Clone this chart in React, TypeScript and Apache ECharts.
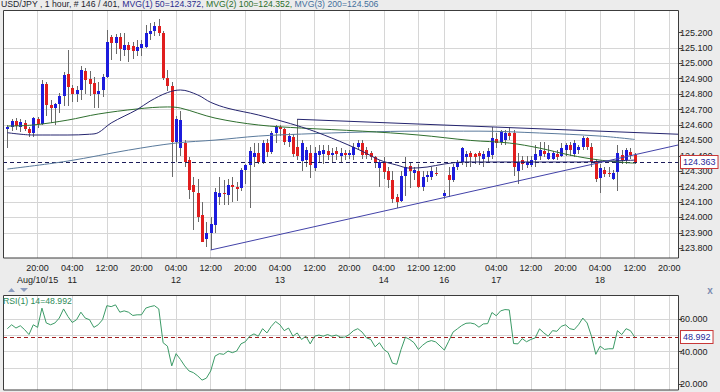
import React, { useEffect, useRef } from 'react';
import * as echarts from 'echarts';

// ---------- axis slots & tick labels ----------
const slots: string[] = Array.from({ length: 157 }, (_, i) => String(i));
const tickSlots = [8, 16, 24, 32, 40, 48, 56, 64, 72, 80, 88, 96, 102, 114, 122, 130, 138, 146, 154];
const tickTimes = ['20:00', '04:00', '12:00', '20:00', '04:00', '12:00', '20:00', '04:00', '12:00', '20:00', '04:00', '12:00', '12:00', '04:00', '12:00', '20:00', '04:00', '12:00', '20:00'];
const tickDays = ['Aug/10/15', '11', '', '', '12', '', '', '13', '', '', '14', '', '16', '17', '', '', '18', '', ''];
const priceTicks = [123.8, 123.9, 124.0, 124.1, 124.2, 124.3, 124.4, 124.5, 124.6, 124.7, 124.8, 124.9, 125.0, 125.1, 125.2];
const rsiLabelTicks = [20, 40, 60];
const rsiGridTicks = [20, 30, 40, 50, 60, 70];

// ---------- hourly candles, slots 1..146 (slot 101 empty) ----------
const opens: (number | null)[] = [
  124.572, 124.585, 124.626, 124.59, 124.614, 124.576, 124.546, 124.637, 124.606, 124.866,
  124.73, 124.708, 124.735, 124.788, 124.93, 124.84, 124.80, 124.827, 124.95, 124.896,
  124.874, 124.80, 124.827, 124.913, 125.17, 125.13, 125.17, 125.086, 125.12, 125.115,
  125.08, 125.10, 125.108, 125.19, 125.21, 125.24, 125.20, 124.905, 124.855, 124.49,
  124.45, 124.48, 124.373, 124.21, 124.157, 124.016, 123.86, 123.90, 123.95, 124.13,
  124.16, 124.145, 124.21, 124.195, 124.19, 124.31, 124.34, 124.39, 124.416, 124.362,
  124.481, 124.427, 124.546, 124.589, 124.572, 124.491, 124.524, 124.46, 124.368, 124.373,
  124.42, 124.32, 124.405, 124.411, 124.433, 124.405, 124.433, 124.399, 124.42, 124.405,
  124.405, 124.459, 124.485, 124.437, 124.42, 124.394, 124.319, 124.362, 124.30, 124.24,
  124.13, 124.11, 124.27, 124.335, 124.29, 124.30, 124.20, 124.26, 124.26, 124.29,
  null, 124.14, 124.275, 124.243, 124.33, 124.362, 124.39, 124.42, 124.41, 124.42,
  124.38, 124.39, 124.405, 124.51, 124.49, 124.50, 124.55, 124.546, 124.30, 124.37,
  124.34, 124.34, 124.37, 124.40, 124.43, 124.38, 124.38, 124.41, 124.40, 124.44,
  124.47, 124.41, 124.44, 124.459, 124.513, 124.459, 124.362, 124.254, 124.31, 124.29,
  124.25, 124.297, 124.405, 124.373, 124.427, 124.405,
];
const closes: (number | null)[] = [
  124.585, 124.626, 124.596, 124.62, 124.576, 124.546, 124.643, 124.606, 124.866, 124.73,
  124.708, 124.735, 124.788, 124.924, 124.844, 124.80, 124.83, 124.957, 124.892, 124.866,
  124.80, 124.82, 124.913, 125.14, 125.13, 125.17, 125.09, 125.12, 125.086, 125.08,
  125.108, 125.125, 125.195, 125.21, 125.24, 125.195, 124.905, 124.855, 124.49, 124.64,
  124.63, 124.36, 124.178, 124.167, 124.005, 123.843, 123.90, 123.96, 124.165, 124.16,
  124.15, 124.21, 124.195, 124.185, 124.31, 124.34, 124.43, 124.42, 124.362, 124.481,
  124.427, 124.546, 124.589, 124.572, 124.491, 124.528, 124.411, 124.40, 124.485, 124.437,
  124.34, 124.42, 124.433, 124.437, 124.405, 124.42, 124.411, 124.42, 124.405, 124.42,
  124.455, 124.481, 124.405, 124.405, 124.394, 124.351, 124.362, 124.297, 124.24, 124.12,
  124.10, 124.27, 124.33, 124.30, 124.31, 124.20, 124.26, 124.275, 124.30, 124.285,
  null, 124.16, 124.243, 124.33, 124.362, 124.449, 124.41, 124.39, 124.39, 124.40,
  124.41, 124.43, 124.513, 124.48, 124.556, 124.55, 124.53, 124.33, 124.36, 124.345,
  124.36, 124.37, 124.41, 124.44, 124.41, 124.42, 124.42, 124.39, 124.45, 124.47,
  124.44, 124.48, 124.46, 124.513, 124.459, 124.362, 124.247, 124.319, 124.28, 124.28,
  124.29, 124.416, 124.373, 124.437, 124.405, 124.363,
];
const lows: (number | null)[] = [
  124.45, 124.56, 124.565, 124.555, 124.56, 124.525, 124.52, 124.58, 124.60, 124.66,
  124.61, 124.60, 124.68, 124.72, 124.72, 124.75, 124.75, 124.76, 124.80, 124.79,
  124.71, 124.71, 124.78, 124.905, 125.02, 125.06, 125.015, 125.05, 125.01, 125.025,
  125.045, 125.045, 125.10, 125.15, 125.18, 125.18, 124.89, 124.82, 124.265, 124.36,
  124.40, 124.33, 124.12, 123.92, 123.97, 123.84, 123.81, 123.79, 123.90, 124.08,
  124.08, 124.08, 124.10, 124.11, 124.17, 124.22, 124.06, 124.33, 124.35, 124.35,
  124.39, 124.41, 124.48, 124.53, 124.47, 124.46, 124.39, 124.37, 124.30, 124.33,
  124.255, 124.30, 124.36, 124.35, 124.37, 124.36, 124.37, 124.36, 124.37, 124.38,
  124.37, 124.44, 124.38, 124.38, 124.37, 124.32, 124.20, 124.25, 124.19, 124.095,
  124.06, 124.10, 124.14, 124.19, 124.24, 124.19, 124.17, 124.23, 124.24, 124.27,
  null, 124.12, 124.135, 124.23, 124.31, 124.34, 124.33, 124.33, 124.35, 124.34,
  124.33, 124.36, 124.38, 124.45, 124.47, 124.47, 124.50, 124.27, 124.22, 124.31,
  124.32, 124.33, 124.33, 124.37, 124.39, 124.37, 124.37, 124.37, 124.39, 124.40,
  124.40, 124.39, 124.41, 124.44, 124.44, 124.33, 124.23, 124.16, 124.26, 124.26,
  124.24, 124.17, 124.35, 124.35, 124.38, 124.35,
];
const highs: (number | null)[] = [
  124.60, 124.64, 124.645, 124.64, 124.635, 124.59, 124.65, 124.65, 124.89, 124.88,
  124.76, 124.74, 124.81, 124.945, 125.085, 124.86, 124.85, 124.98, 124.97, 124.95,
  124.91, 124.88, 124.93, 125.215, 125.185, 125.19, 125.20, 125.20, 125.14, 125.14,
  125.15, 125.15, 125.25, 125.26, 125.27, 125.287, 125.21, 124.955, 124.88, 124.66,
  124.69, 124.50, 124.39, 124.26, 124.25, 124.10, 123.97, 124.00, 124.19, 124.265,
  124.24, 124.25, 124.26, 124.23, 124.32, 124.35, 124.46, 124.48, 124.48, 124.50,
  124.51, 124.56, 124.60, 124.60, 124.58, 124.55, 124.54, 124.64, 124.50, 124.46,
  124.47, 124.46, 124.47, 124.47, 124.47, 124.45, 124.46, 124.45, 124.44, 124.44,
  124.48, 124.50, 124.50, 124.46, 124.43, 124.40, 124.37, 124.394, 124.33, 124.30,
  124.15, 124.30, 124.39, 124.36, 124.33, 124.35, 124.30, 124.30, 124.33, 124.33,
  null, 124.18, 124.33, 124.35, 124.37, 124.46, 124.43, 124.43, 124.42, 124.43,
  124.43, 124.45, 124.59, 124.55, 124.57, 124.57, 124.59, 124.567, 124.42, 124.40,
  124.40, 124.40, 124.47, 124.49, 124.49, 124.47, 124.43, 124.44, 124.48, 124.48,
  124.49, 124.50, 124.47, 124.53, 124.52, 124.48, 124.38, 124.35, 124.33, 124.33,
  124.31, 124.47, 124.44, 124.45, 124.45, 124.42,
];

// ---------- moving averages read at sample slots: [slot, value] ----------
const mvg50: [number, number][] = [
  [1, 124.55], [7, 124.535], [15, 124.535], [20, 124.54], [22, 124.55], [25, 124.613], [31, 124.70],
  [34, 124.755], [38, 124.81], [41, 124.827], [45, 124.795], [48, 124.747], [52, 124.708], [59, 124.665],
  [69, 124.587], [76, 124.515], [83, 124.43], [87, 124.373], [91, 124.34], [94, 124.32], [98, 124.327],
  [102, 124.347], [107, 124.36], [115, 124.36], [124, 124.36], [133, 124.36], [140, 124.366], [146, 124.372],
];
const mvg100: [number, number][] = [
  [1, 124.593], [7, 124.60], [15, 124.632], [22, 124.671], [31, 124.704], [38, 124.717], [41, 124.71],
  [49, 124.645], [59, 124.60], [69, 124.58], [83, 124.56], [96, 124.535], [108, 124.50], [117, 124.483],
  [124, 124.45], [131, 124.405], [138, 124.372], [146, 124.352],
];
const mvg200: [number, number][] = [
  [1, 124.314], [15, 124.366], [29, 124.437], [40, 124.483], [49, 124.502], [59, 124.528], [69, 124.541],
  [83, 124.554], [96, 124.56], [110, 124.56], [124, 124.548], [138, 124.528], [146, 124.506],
];
const resistanceLine: [number, number][] = [[68, 124.637], [156, 124.54]];
const supportLine: [number, number][] = [[48, 123.789], [156, 124.47]];
const lastPrice = 124.363;

// ---------- RSI(14), slots 1..146 (slot 101 empty) ----------
const rsi: (number | null)[] = [
  54.1, 56.5, 54.5, 55.9, 53.5, 50.5, 56.5, 54.9, 66.7, 57.6,
  56.5, 57.6, 60.6, 66.2, 61.6, 57.9, 59.6, 64.2, 60.6, 59.6,
  54.9, 56.5, 59.6, 68.2, 67.6, 68.7, 64.2, 65.0, 64.2, 62.2,
  62.6, 62.6, 66.7, 67.6, 68.2, 66.2, 45.5, 43.4, 31.3, 38.8,
  35.3, 31.3, 28.2, 27.2, 25.2, 22.6, 23.8, 28.2, 37.3, 38.8,
  38.4, 40.4, 39.4, 40.4, 44.8, 46.1, 49.5, 50.9, 49.5, 54.1,
  51.5, 55.5, 58.5, 56.5, 52.9, 54.5, 49.5, 51.5, 47.5, 49.5,
  44.8, 49.5, 50.2, 49.5, 50.5, 49.5, 50.2, 48.9, 48.9, 50.5,
  52.9, 54.1, 52.0, 48.5, 47.5, 43.0, 45.5, 41.4, 39.5, 33.0,
  32.3, 41.4, 48.9, 47.5, 45.5, 41.4, 44.0, 46.0, 46.8, 46.0,
  null, 41.0, 46.4, 52.0, 54.0, 56.0, 57.4, 57.6, 57.0, 55.0,
  57.0, 57.2, 64.0, 62.0, 65.0, 65.8, 65.6, 45.0, 44.8, 48.0,
  46.1, 47.5, 48.5, 54.0, 51.5, 49.5, 52.9, 52.5, 55.5, 56.5,
  54.1, 53.5, 56.5, 60.6, 57.6, 49.5, 38.4, 43.4, 41.4, 41.8,
  41.8, 52.9, 50.5, 54.1, 52.9, 48.992,
];
const lastRsi = 48.992;

const FONT = "'Liberation Sans', Arial, sans-serif";
const UP = '#1c1cdc';
const DOWN = '#e01e1e';
const WICK = '#6a6a6a';
const GRID = '#d6d6d6';

export default function App() {
  const ref = useRef<HTMLDivElement>(null);

  useEffect(() => {
    if (!ref.current) return;
    const chart = echarts.init(ref.current, undefined, { renderer: 'svg' });

    const candleData: number[][] = [];
    opens.forEach((o, i) => {
      if (o === null) return;
      candleData.push([i + 1, o, closes[i] as number, lows[i] as number, highs[i] as number]);
    });
    const rsiData: number[][] = [];
    rsi.forEach((v, i) => {
      if (v === null) return;
      rsiData.push([i + 1, v]);
    });

    const labelOf = (idx: number) => {
      const k = tickSlots.indexOf(idx);
      if (k < 0) return '';
      return tickDays[k] ? `${tickTimes[k]}\n${tickDays[k]}` : tickTimes[k];
    };
    const isTick = (idx: number) => tickSlots.indexOf(idx) >= 0;

    const xBase = {
      type: 'category',
      data: slots,
      boundaryGap: false,
      axisLine: { show: false },
      axisTick: { show: false },
      splitLine: { show: true, interval: (i: number) => isTick(i), lineStyle: { color: GRID, width: 1 } },
    };

    const lineSeries = (data: [number, number][], color: string, z = 5) => ({
      type: 'line',
      xAxisIndex: 0,
      yAxisIndex: 0,
      data,
      symbol: 'none',
      showSymbol: false,
      smooth: 0.35,
      lineStyle: { color, width: 1 },
      silent: true,
      z,
    });

    const option: any = {
      animation: false,
      backgroundColor: '#ececec',
      textStyle: { fontFamily: FONT },
      title: {
        left: 1,
        top: -1,
        padding: 0,
        text:
          '{a|USD/JPY , 1 hour, # 146 / 401, }{b|MVG(1) 50=124.372, }{c|MVG(2) 100=124.352, }{d|MVG(3) 200=124.506}',
        textStyle: {
          fontSize: 8.7,
          fontWeight: 'normal',
          fontFamily: FONT,
          rich: {
            a: { color: '#1c1c2c', fontSize: 8.7, fontFamily: FONT },
            b: { color: '#2b2b8c', fontSize: 8.7, fontFamily: FONT },
            c: { color: '#2b6e2b', fontSize: 8.7, fontFamily: FONT },
            d: { color: '#45709c', fontSize: 8.7, fontFamily: FONT },
          },
        },
      },
      grid: [
        { left: 3, top: 10, width: 675, height: 248, show: true, backgroundColor: '#ffffff', borderWidth: 0 },
        { left: 3, top: 295, width: 675, height: 95, show: true, backgroundColor: '#ffffff', borderWidth: 0 },
      ],
      xAxis: [
        {
          ...xBase,
          gridIndex: 0,
          axisLabel: {
            show: true,
            interval: (i: number) => isTick(i),
            formatter: (_v: string, i: number) => labelOf(i),
            fontSize: 9,
            color: '#222',
            fontFamily: FONT,
            margin: 4,
            lineHeight: 12,
          },
        },
        { ...xBase, gridIndex: 1, axisLabel: { show: false } },
      ],
      yAxis: [
        {
          type: 'value',
          gridIndex: 0,
          position: 'right',
          min: 123.737,
          max: 125.346,
          axisLine: { show: false },
          axisTick: { show: true, length: 4, customValues: priceTicks, lineStyle: { color: '#444' } },
          axisLabel: {
            customValues: priceTicks,
            formatter: (v: number) => v.toFixed(3),
            fontSize: 9,
            color: '#222',
            fontFamily: FONT,
            margin: 2,
          },
          splitLine: { show: true, showMinLine: false, showMaxLine: false, lineStyle: { color: GRID } },
        },
        {
          type: 'value',
          gridIndex: 1,
          position: 'right',
          min: 16.55,
          max: 74.73,
          axisLine: { show: false },
          axisTick: { show: true, length: 4, customValues: rsiLabelTicks, lineStyle: { color: '#444' } },
          axisLabel: {
            customValues: rsiLabelTicks,
            formatter: (v: number) => v.toFixed(3),
            fontSize: 9,
            color: '#222',
            fontFamily: FONT,
            margin: 2,
          },
          splitLine: { show: false },
        },
        {
          type: 'value',
          gridIndex: 1,
          position: 'right',
          min: 16.55,
          max: 74.73,
          axisLine: { show: false },
          axisTick: { show: false, customValues: rsiGridTicks },
          axisLabel: { show: false, customValues: rsiGridTicks },
          splitLine: { show: true, showMinLine: false, showMaxLine: false, lineStyle: { color: GRID } },
        },
      ],
      series: [
        {
          type: 'custom',
          xAxisIndex: 0,
          yAxisIndex: 0,
          data: candleData,
          encode: { x: 0, y: [1, 2, 3, 4] },
          z: 3,
          silent: true,
          renderItem: (_p: any, api: any) => {
            const s = api.value(0);
            const o = api.value(1);
            const c = api.value(2);
            const lo = api.value(3);
            const hi = api.value(4);
            const po = api.coord([s, o]);
            const pc = api.coord([s, c]);
            const pl = api.coord([s, lo]);
            const ph = api.coord([s, hi]);
            const cx = Math.round(po[0]) + 0.5;
            const yTop = Math.round(Math.min(po[1], pc[1]));
            const yBot = Math.round(Math.max(po[1], pc[1]));
            const h = Math.max(1, yBot - yTop);
            return {
              type: 'group',
              children: [
                {
                  type: 'line',
                  shape: { x1: cx, y1: Math.round(ph[1]), x2: cx, y2: Math.round(pl[1]) },
                  style: { stroke: WICK, lineWidth: 1 },
                },
                {
                  type: 'rect',
                  shape: { x: cx - 1.5, y: yTop, width: 3, height: h },
                  style: { fill: c >= o ? UP : DOWN },
                },
              ],
            };
          },
        },
        lineSeries(mvg200, '#5a7a9c'),
        lineSeries(mvg100, '#2f6f2f'),
        {
          ...lineSeries(mvg50, '#25256e'),
          markLine: {
            silent: true,
            symbol: 'none',
            data: [{ yAxis: lastPrice }],
            lineStyle: { color: '#1c1c5a', type: [4, 3], width: 1 },
            label: {
              show: true,
              position: 'end',
              distance: 3,
              formatter: lastPrice.toFixed(3),
              fontSize: 9,
              fontFamily: FONT,
              color: '#2a2a9a',
              backgroundColor: '#ffffff',
              borderColor: '#c83838',
              borderWidth: 1,
              padding: [2, 2, 1, 2],
            },
          },
        },
        { ...lineSeries(resistanceLine, '#24246e'), smooth: false },
        { ...lineSeries(supportLine, '#4242a8'), smooth: false },
        {
          type: 'line',
          xAxisIndex: 1,
          yAxisIndex: 1,
          data: rsiData,
          symbol: 'none',
          showSymbol: false,
          lineStyle: { color: '#3b9a66', width: 1 },
          silent: true,
          z: 5,
          markLine: {
            silent: true,
            symbol: 'none',
            data: [{ yAxis: lastRsi }],
            lineStyle: { color: '#a01c1c', type: [4, 3], width: 1 },
            label: {
              show: true,
              position: 'end',
              distance: 3,
              formatter: lastRsi.toFixed(3),
              fontSize: 9,
              fontFamily: FONT,
              color: '#2a2a9a',
              backgroundColor: '#ffffff',
              borderColor: '#c83838',
              borderWidth: 1,
              padding: [2, 2, 1, 2],
            },
          },
        },
      ],
      graphic: [
        {
          type: 'rect',
          z: 100,
          silent: true,
          shape: { x: 3.5, y: 10.5, width: 675, height: 247.5 },
          style: { fill: 'none', stroke: '#3c3c3c', lineWidth: 1 },
        },
        {
          type: 'rect',
          z: 100,
          silent: true,
          shape: { x: 3.5, y: 295.5, width: 675, height: 94.5 },
          style: { fill: 'none', stroke: '#3c3c3c', lineWidth: 1 },
        },
        {
          type: 'text',
          z: 100,
          silent: true,
          x: 3,
          y: 301,
          style: {
            text: 'RSI(1) 14=48.992',
            fill: '#2e8a58',
            font: `8.7px ${FONT}`,
            verticalAlign: 'middle',
          },
        },
        {
          type: 'polygon',
          z: 100,
          silent: true,
          shape: { points: [[8, 292], [15, 292], [11.5, 288]] },
          style: { fill: '#8a9cc0' },
        },
        {
          type: 'polygon',
          z: 100,
          silent: true,
          shape: { points: [[20, 288], [28, 288], [24, 292]] },
          style: { fill: '#8a9cc0' },
        },
        {
          type: 'text',
          z: 100,
          silent: true,
          x: 710,
          y: 290,
          style: {
            text: 'x',
            fill: '#7c8db0',
            font: `bold 10px ${FONT}`,
            align: 'center',
            verticalAlign: 'middle',
          },
        },
      ],
    };

    chart.setOption(option);
    return () => chart.dispose();
  }, []);

  return (
    <div
      ref={ref}
      style={{ position: 'fixed', left: 0, top: 0, width: 720, height: 392 }}
    />
  );
}
